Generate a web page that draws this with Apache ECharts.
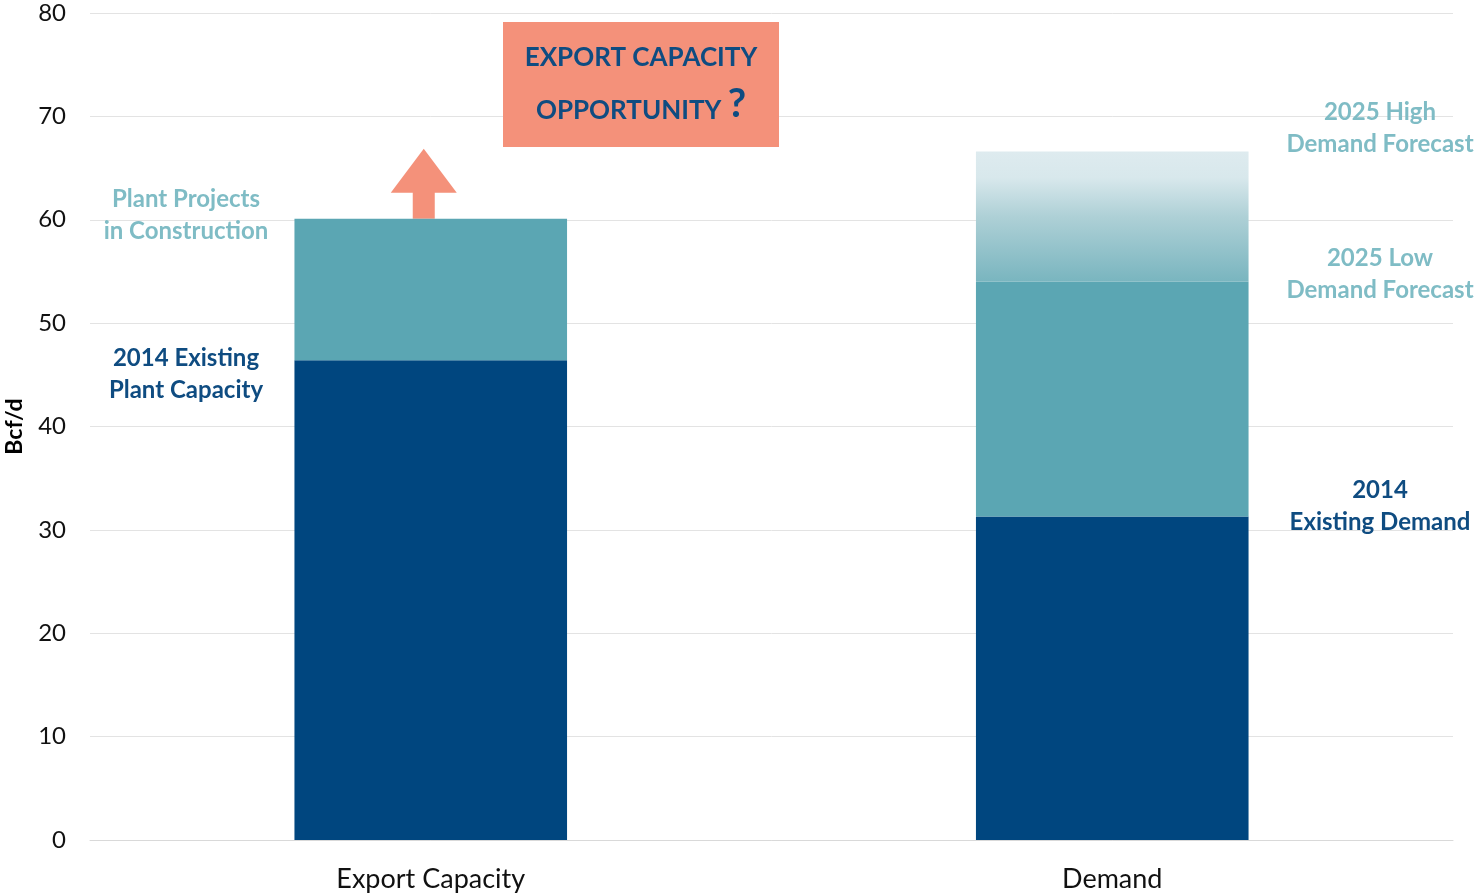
<!DOCTYPE html>
<html>
<head>
<meta charset="utf-8">
<script src="https://cdn.jsdelivr.net/npm/echarts@6/dist/echarts.min.js"></script>
<style>
html,body{margin:0;padding:0;background:#fff;}
#c{width:1479px;height:895px;}
</style>
</head>
<body>
<div id="c"></div>
<script>
const categories = ['Export Capacity', 'Demand'];
const existing2014 = [46.4, 31.3];
const construction = [13.7, '-'];
const lowForecastIncrement = ['-', 22.7];
const highForecastIncrement = ['-', 12.6];
const yTicks = [0, 80, 10];

const FONT = 'Lato, "Open Sans", sans-serif';
const DARK = '#00467f';
const TEAL = '#5ba6b3';
const LABEL_LIGHT = '#7fbcc5';
const LABEL_DARK = '#0f4c81';
const SALMON = '#f4917a';

const chart = echarts.init(document.getElementById('c'), null, {renderer: 'canvas'});

const option = {
  animation: false,
  backgroundColor: '#fff',
  grid: {left: 90, right: 26, top: 13, bottom: 55, containLabel: false, outerBoundsMode: 'none'},
  xAxis: {
    type: 'category',
    data: categories,
    axisLine: {show: true, lineStyle: {color: '#d9d9d9', width: 1}},
    axisTick: {show: false},
    axisLabel: {color: '#111', fontFamily: FONT, fontSize: 27, margin: 26}
  },
  yAxis: {
    type: 'value',
    min: yTicks[0], max: yTicks[1], interval: yTicks[2],
    name: 'Bcf/d',
    nameLocation: 'middle',
    nameGap: 64,
    nameRotate: 90,
    nameTextStyle: {color: '#000', fontFamily: FONT, fontSize: 23, fontWeight: 'bold'},
    axisLine: {show: false},
    axisTick: {show: false},
    splitLine: {lineStyle: {color: '#e3e3e3', width: 1}},
    axisLabel: {color: '#111', fontFamily: FONT, fontSize: 24, margin: 24}
  },
  series: [
    {name: '2014 Existing', type: 'bar', stack: 's', data: existing2014, barWidth: '40%',
     itemStyle: {color: DARK}},
    {name: 'Plant Projects in Construction', type: 'bar', stack: 's', data: construction,
     itemStyle: {color: TEAL}},
    {name: '2025 Low Demand Forecast', type: 'bar', stack: 's', data: lowForecastIncrement,
     itemStyle: {color: TEAL}},
    {name: '2025 High Demand Forecast', type: 'bar', stack: 's', data: highForecastIncrement,
     itemStyle: {color: new echarts.graphic.LinearGradient(0, 0, 0, 1, [
       {offset: 0, color: '#deebef'},
       {offset: 0.2, color: '#d8e8ec'},
       {offset: 0.5, color: '#aed0d6'},
       {offset: 1, color: '#79b5bf'}
     ])}}
  ]
};
chart.setOption(option);

// annotations anchored to data positions
const topExport = existing2014[0] + construction[0];
const pTop = chart.convertToPixel({xAxisIndex: 0, yAxisIndex: 0}, [0, topExport]);
const ax = pTop[0] - 7;
const barTopY = pTop[1];

function lbl(x, y, text, color) {
  return {
    type: 'text', x: x, y: y,
    style: {text: text, fill: color, font: 'bold 24px ' + FONT, align: 'center', verticalAlign: 'middle', lineHeight: 32}
  };
}

chart.setOption({
  graphic: [
    {type: 'polygon', shape: {points: [
      [ax, barTopY - 70], [ax + 33, barTopY - 26], [ax + 11, barTopY - 26], [ax + 11, barTopY],
      [ax - 11, barTopY], [ax - 11, barTopY - 26], [ax - 33, barTopY - 26]
    ]}, style: {fill: SALMON}},
    {type: 'rect', shape: {x: 503, y: 22, width: 276, height: 125}, style: {fill: SALMON}},
    {type: 'text', x: 641, y: 58, style: {text: 'EXPORT CAPACITY', fill: LABEL_DARK, font: 'bold 26px ' + FONT, align: 'center', verticalAlign: 'middle'}},
    {type: 'text', x: 641, y: 104, style: {
      text: '{a|OPPORTUNITY }{b|?}', align: 'center', verticalAlign: 'middle',
      rich: {
        a: {fontFamily: FONT, fontSize: 26, fontWeight: 'bold', fill: LABEL_DARK, color: LABEL_DARK, verticalAlign: 'bottom'},
        b: {fontFamily: FONT, fontSize: 40, fontWeight: 'bold', fill: LABEL_DARK, color: LABEL_DARK, verticalAlign: 'bottom'}
      }
    }},
    lbl(186, 215, 'Plant Projects\nin Construction', LABEL_LIGHT),
    lbl(186, 374, '2014 Existing\nPlant Capacity', LABEL_DARK),
    lbl(1380, 128, '2025 High\nDemand Forecast', LABEL_LIGHT),
    lbl(1380, 274, '2025 Low\nDemand Forecast', LABEL_LIGHT),
    lbl(1380, 506, '2014\nExisting Demand', LABEL_DARK)
  ]
});
</script>
</body>
</html>
